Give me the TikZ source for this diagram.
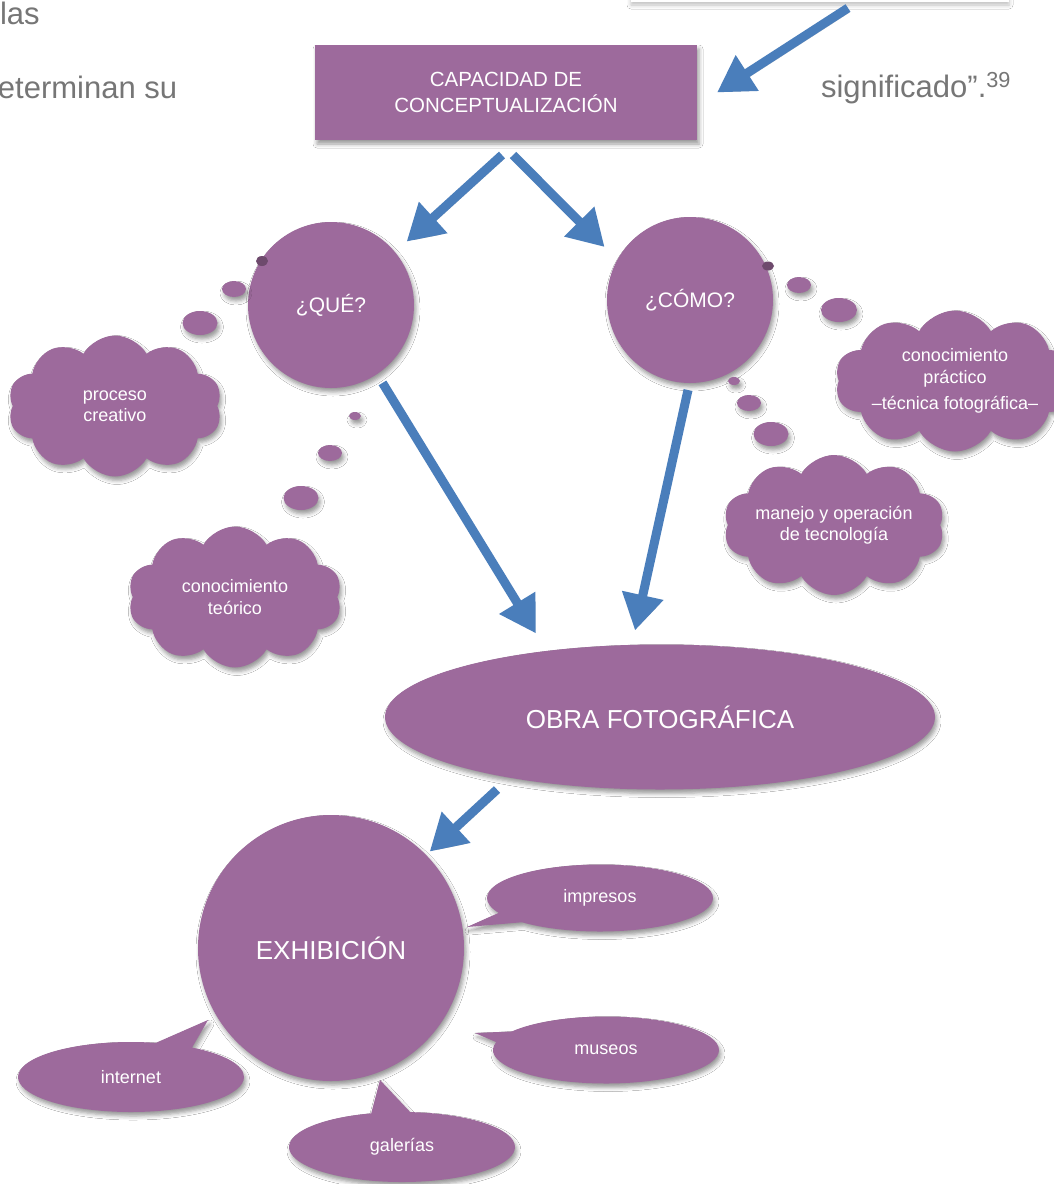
\documentclass[tikz,border=0pt]{standalone}
\usepackage{fontspec}
\setmainfont{Liberation Sans}
\usetikzlibrary{positioning,calc,arrows.meta,shapes.geometric,shapes.symbols,shapes.callouts,shadows.blur}
\definecolor{ofcpurple}{RGB}{157,106,156}
\definecolor{ofcblue}{RGB}{74,126,187}
\definecolor{bodygray}{RGB}{118,118,118}

\begin{document}
\begin{tikzpicture}[
    x=1pt, y=1pt,
    every node/.style={inner sep=0pt, outer sep=0pt, align=center},
    purp/.style={fill=ofcpurple, text=white,
        blur shadow={shadow xshift=2pt, shadow yshift=-4pt, shadow blur radius=4pt}},
    box/.style={purp, rectangle, minimum width=382pt, minimum height=95pt, font=\fontsize{20.5}{26}\selectfont},
    disc/.style={purp, circle, font=\fontsize{21}{25}\selectfont},
    idea/.style={purp, cloud, cloud puffs=10, cloud puff arc=120, cloud ignores aspect,
        minimum width=214pt, minimum height=141pt, font=\fontsize{18}{21.5}\selectfont},
    bub/.style={purp, ellipse},
    talk/.style={purp, ellipse callout, minimum width=226pt, minimum height=67pt,
        callout pointer arc=20, font=\fontsize{18}{21.5}\selectfont},
    flow/.style={draw=ofcblue, line width=9pt, -{Triangle[length=36pt,width=40pt]},
        preaction={draw=black, opacity=0.22, transform canvas={shift={(2pt,-4pt)}}}},
    body/.style={text=bodygray, font=\fontsize{31}{37}\selectfont, anchor=base west}]

    \fill[white] (0,0) rectangle (1054,-1184);
    \useasboundingbox (0,0) rectangle (1054,-1184);

    % running text around the figure
    \node[body] (las) at (0,-24) {las};
    \node[body] (determ) at (-2,-98) {eterminan su};
    \node[body] (signif) at (821,-97) {significado”.\textsuperscript{39}};

    \node[rectangle, fill=white, minimum width=378pt, minimum height=56pt,
        blur shadow={shadow xshift=0pt, shadow yshift=-3pt, shadow blur radius=4pt, shadow opacity=25}] (srcbox) at (820,26) {};

    \node[box] (capa) at (506,-92.5) {CAPACIDAD DE\\CONCEPTUALIZACIÓN};

    \node[disc, minimum size=166pt] (que) at (331,-305) {¿QUÉ?};
    \node[disc, minimum size=166pt] (como) at (690,-300) {¿CÓMO?};

    % thought clouds
    \node[idea] (proceso) at (115,-406) {proceso\\creativo};
    \node[idea] (teorico) at (235,-597) {conocimiento\\teórico};
    \node[idea] (practico) at (955,-381) {conocimiento\\práctico\\[5pt]–técnica fotográfica–};
    \node[idea, minimum width=212pt, minimum height=140pt] (tecno) at (834,-525) {manejo y operación\\de tecnología};

    \foreach \bx/\by/\bw/\bh [count=\i] in {234/289/24/16, 200/323/35/24,
        355/416/12/8, 330/453/24/16, 301/498/35/24,
        799/285/24/16, 839/310/36/24,
        734/381/12/8, 749/403/24/16, 771/434/35/24}
        \node[bub, minimum width=\bw pt, minimum height=\bh pt] (bub\i) at (\bx,-\by) {};
    \node[ellipse, fill=ofcpurple!70!black, minimum width=12pt, minimum height=10pt] (qdot) at (262,-261) {};
    \node[ellipse, fill=ofcpurple!70!black, minimum width=12pt, minimum height=9pt] (cdot) at (768,-266) {};

    \node[purp, ellipse, minimum width=550pt, minimum height=145pt, font=\fontsize{26}{30}\selectfont] (obra) at (660,-717) {OBRA FOTOGRÁFICA};

    \node[disc, minimum size=266pt, font=\fontsize{26}{30}\selectfont] (exhib) at (331,-948) {EXHIBICIÓN};

    % where it is shown
    \node[talk, callout absolute pointer={($(exhib.center)+(136,21)$)}] (impresos) at (600,-898) {impresos};
    \node[talk, callout absolute pointer={($(exhib.center)+(144,-85)$)}] (museos) at (606,-1050) {museos};
    \node[talk, minimum height=70pt, callout absolute pointer={($(exhib.center)+(-123,-72)$)}] (internet) at (131,-1077) {internet};
    \node[talk, minimum height=70pt, callout absolute pointer={($(exhib.center)+(49,-132)$)}] (galerias) at (402,-1147) {galerías};

    \draw[flow] ([shift={(28,-6)}]srcbox.south) -- ([xshift=20pt]capa.east);
    \draw[flow] ([shift={(-4,-15)}]capa.south) -- ([shift={(12,10)}]que.40);
    \draw[flow] ([shift={(7,-15)}]capa.south) -- ([shift={(-15,9)}]como.148);
    \draw[flow] ([shift={(10,-6)}]que.300) -- ([shift={(-124,11)}]obra.north);
    \draw[flow] ([shift={(-2,-7)}]como.south) -- ([shift={(-25,14)}]obra.north);
    \draw[flow] ([shift={(-163,0)}]obra.south) -- ([shift={(3,4)}]exhib.44);

\end{tikzpicture}
\end{document}
